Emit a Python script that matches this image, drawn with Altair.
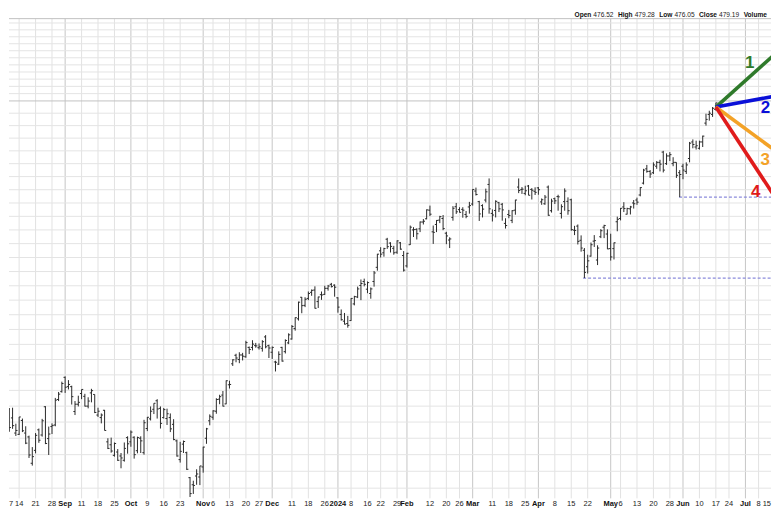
import altair as alt
import pandas as pd

# ---------------- data (daily OHLC, trading-day index 0 = Aug 7 2023) ----------------
opens = [370.9, 369.5, 369.0, 366.3, 361.6, 361.2, 365.5, 361.6, 360.4, 352.4,
         356.3, 362.6, 361.0, 369.8, 359.9, 363.6, 364.1, 372.1, 374.6, 379.2,
         376.2, 376.2, 368.3, 370.6, 374.0, 373.1, 370.0, 374.2, 373.7, 367.2,
         366.4, 368.7, 358.9, 358.0, 354.8, 355.8, 354.6, 353.3, 360.2, 358.9,
         360.3, 356.2, 360.0, 355.6, 363.0, 366.0, 369.0, 371.7, 369.3, 366.4,
         366.1, 366.4, 364.3, 359.2, 353.5, 358.2, 355.6, 348.1, 346.0, 348.6,
         348.3, 351.3, 360.0, 365.4, 366.5, 368.4, 372.2, 373.5, 370.7, 376.8,
         383.6, 386.4, 385.0, 386.5, 385.9, 389.0, 389.0, 389.6, 388.9, 388.7,
         392.5, 389.6, 387.4, 384.2, 383.5, 389.0, 387.6, 390.5, 391.8, 395.3,
         398.6, 406.0, 403.2, 405.6, 407.7, 408.5, 404.5, 406.9, 407.0, 409.1,
         410.5, 410.2, 405.8, 400.1, 397.8, 397.0, 398.0, 403.7, 406.1, 410.1,
         411.5, 408.8, 407.3, 411.5, 416.5, 422.4, 421.7, 426.6, 425.2, 423.3,
         421.9, 425.3, 420.7, 417.0, 424.6, 430.0, 430.2, 430.4, 432.9, 434.1,
         437.3, 429.3, 432.0, 433.6, 434.2, 428.8, 426.3, 434.6, 438.6, 437.5,
         437.6, 435.7, 438.5, 439.6, 444.5, 440.5, 439.0, 441.1, 447.0, 436.1,
         437.2, 440.1, 439.5, 432.4, 435.7, 433.5, 437.3, 446.0, 445.1, 443.6,
         446.4, 445.1, 444.4, 445.7, 440.4, 439.7, 446.0, 437.1, 441.6, 442.4,
         436.1, 440.5, 440.6, 441.2, 429.9, 431.4, 426.2, 422.6, 416.7, 420.5,
         425.9, 419.1, 427.5, 431.0, 428.5, 423.2, 423.2, 433.0, 434.2, 438.5,
         435.8, 437.8, 440.0, 441.1, 443.0, 447.5, 453.0, 452.0, 451.5, 454.0,
         455.5, 459.5, 455.0, 458.0, 455.0, 455.5, 451.5, 454.0, 452.0, 457.0,
         463.5, 461.5, 461.0, 463.5, 471.0, 474.5, 474.5, 476.52]
highs = [373.0, 370.6, 369.4, 369.5, 364.5, 366.6, 366.1, 363.7, 360.8, 357.3,
         361.6, 363.0, 366.0, 370.0, 363.6, 364.6, 372.6, 374.5, 377.8, 379.5,
         378.3, 376.5, 371.6, 373.3, 375.3, 373.9, 372.8, 375.5, 373.7, 369.5,
         367.7, 368.8, 360.0, 360.2, 358.7, 356.7, 355.5, 358.7, 360.6, 362.4,
         360.6, 360.5, 360.6, 365.7, 366.6, 369.9, 370.9, 372.2, 369.9, 369.4,
         369.2, 367.7, 365.9, 359.6, 358.9, 359.3, 355.9, 348.3, 347.2, 350.6,
         351.6, 357.4, 363.2, 367.4, 368.7, 372.5, 373.6, 374.8, 378.2, 378.1,
         385.1, 386.9, 387.4, 387.2, 391.2, 389.3, 391.4, 390.5, 390.3, 391.4,
         393.1, 389.9, 389.3, 384.6, 387.7, 389.2, 391.7, 393.7, 396.5, 399.1,
         404.5, 406.1, 406.0, 408.0, 408.7, 409.8, 406.2, 408.0, 410.0, 410.3,
         411.0, 410.5, 406.0, 401.8, 400.6, 399.6, 405.7, 406.5, 409.7, 412.2,
         412.5, 411.5, 409.4, 415.2, 421.3, 423.7, 423.5, 427.1, 425.5, 424.2,
         426.2, 425.6, 422.3, 421.7, 431.6, 431.0, 430.6, 433.1, 434.0, 437.6,
         439.0, 431.6, 433.6, 435.2, 435.5, 429.3, 427.3, 438.8, 440.0, 438.4,
         438.4, 437.0, 440.4, 445.2, 445.8, 440.8, 439.5, 445.4, 449.3, 437.6,
         441.0, 440.4, 440.0, 434.3, 437.4, 437.3, 441.2, 449.3, 446.0, 446.5,
         446.8, 445.6, 445.9, 446.0, 441.7, 443.0, 446.6, 441.6, 442.0, 443.1,
         439.5, 445.5, 442.1, 441.6, 431.5, 432.0, 428.0, 423.4, 421.0, 425.4,
         428.1, 424.4, 430.3, 431.9, 430.2, 428.6, 425.4, 434.9, 438.1, 440.3,
         438.2, 438.9, 441.1, 442.0, 446.0, 453.0, 454.5, 452.5, 455.5, 456.0,
         456.5, 460.0, 459.0, 459.5, 457.5, 455.5, 452.5, 455.0, 455.5, 463.5,
         464.5, 464.0, 464.0, 466.0, 474.8, 476.0, 477.5, 479.28]
lows = [369.3, 365.6, 362.0, 362.9, 360.7, 361.0, 361.9, 358.2, 354.0, 351.7,
        355.4, 358.6, 360.5, 358.2, 354.9, 361.3, 363.7, 371.6, 374.3, 374.2,
        375.3, 370.5, 367.2, 369.9, 372.2, 369.9, 369.3, 371.2, 367.8, 366.6,
        364.6, 362.4, 356.7, 355.6, 354.4, 353.1, 350.9, 352.9, 355.3, 357.4,
        353.8, 355.4, 355.5, 355.0, 362.2, 365.5, 367.5, 366.1, 363.0, 366.1,
        364.1, 361.9, 359.4, 354.4, 352.6, 355.5, 350.4, 342.4, 343.3, 346.0,
        345.9, 349.6, 358.3, 364.0, 365.7, 367.6, 370.6, 369.9, 370.6, 375.6,
        382.9, 384.1, 383.8, 384.7, 385.6, 386.8, 388.0, 388.9, 388.3, 387.6,
        388.7, 385.5, 385.2, 381.1, 383.2, 384.3, 387.0, 390.1, 391.6, 394.6,
        398.0, 400.5, 402.6, 405.0, 406.5, 402.1, 402.3, 405.1, 406.8, 408.3,
        409.4, 406.2, 400.7, 398.0, 396.7, 395.6, 397.9, 403.2, 405.7, 405.0,
        409.8, 407.4, 405.5, 409.7, 415.3, 420.0, 420.3, 423.1, 421.8, 421.0,
        421.3, 422.8, 415.0, 416.4, 424.5, 427.4, 426.5, 429.2, 432.0, 433.9,
        435.1, 424.9, 429.2, 432.5, 429.9, 424.8, 423.4, 433.4, 435.9, 436.4,
        434.5, 434.3, 436.0, 439.0, 442.8, 433.3, 434.6, 440.2, 436.0, 433.1,
        434.6, 436.6, 433.4, 430.5, 434.3, 432.5, 435.6, 443.7, 443.4, 442.9,
        442.9, 441.3, 443.0, 443.1, 439.3, 439.3, 435.2, 436.4, 439.6, 437.1,
        434.2, 437.1, 435.6, 429.7, 428.1, 424.7, 422.1, 412.7, 414.3, 420.3,
        423.8, 417.3, 427.0, 427.0, 423.0, 418.9, 419.3, 429.5, 433.5, 436.6,
        435.7, 435.7, 437.9, 439.3, 442.5, 447.0, 451.5, 449.5, 451.0, 453.0,
        452.0, 451.6, 454.5, 456.0, 454.0, 449.5, 442.2, 449.0, 451.0, 455.5,
        461.0, 460.5, 460.5, 461.5, 470.0, 472.0, 473.5, 476.05]
closes = [372.5, 368.7, 363.3, 363.9, 362.4, 366.6, 362.3, 358.5, 354.9, 354.4,
          360.9, 359.4, 365.4, 358.4, 361.3, 363.9, 371.9, 373.8, 377.2, 376.0,
          376.9, 373.0, 370.6, 371.2, 375.3, 370.0, 371.6, 374.9, 368.0, 368.4,
          367.2, 362.4, 356.9, 356.1, 358.4, 353.3, 354.0, 356.9, 358.3, 361.9,
          355.0, 360.2, 359.2, 364.8, 366.5, 368.4, 370.9, 369.1, 364.6, 368.9,
          367.6, 362.9, 359.6, 354.6, 356.0, 359.0, 350.6, 343.4, 345.8, 349.2,
          351.6, 357.3, 362.9, 366.8, 368.5, 372.1, 373.0, 370.0, 378.1, 376.9,
          384.9, 385.5, 386.5, 386.1, 390.6, 388.3, 390.1, 389.5, 389.2, 390.9,
          389.2, 388.8, 389.0, 384.1, 386.7, 384.5, 391.3, 393.2, 396.0, 399.0,
          404.3, 403.1, 405.3, 407.3, 408.4, 402.2, 406.1, 406.8, 409.1, 409.9,
          409.7, 409.5, 402.6, 398.3, 396.8, 396.4, 405.6, 406.2, 408.9, 410.8,
          410.5, 411.1, 408.9, 414.5, 421.2, 421.2, 423.2, 423.9, 424.0, 421.7,
          426.0, 423.0, 415.5, 421.5, 431.0, 430.1, 428.6, 432.9, 433.2, 437.4,
          435.8, 429.1, 433.5, 434.9, 430.5, 427.8, 426.7, 438.0, 436.7, 436.5,
          437.3, 435.0, 439.0, 445.1, 443.2, 435.9, 437.7, 444.2, 437.8, 435.5,
          440.6, 437.8, 437.4, 431.6, 435.3, 437.1, 441.1, 444.7, 445.2, 444.6,
          442.9, 444.8, 444.0, 445.0, 441.2, 442.2, 435.4, 440.7, 440.8, 442.3,
          438.6, 444.5, 437.1, 430.1, 429.8, 425.8, 423.4, 414.7, 418.8, 424.6,
          426.1, 423.4, 429.7, 431.6, 423.1, 420.2, 425.3, 433.9, 438.0, 437.9,
          437.9, 438.5, 439.7, 440.3, 445.8, 452.5, 452.0, 451.0, 454.5, 455.5,
          454.8, 452.5, 458.0, 458.5, 455.5, 450.5, 450.8, 452.5, 454.5, 463.0,
          462.5, 462.0, 463.5, 465.8, 472.5, 475.0, 477.0, 479.19]

# x-axis tick labels (trading-day index, text)
tick_idx = [0, 5, 10, 15, 19, 24, 29, 34, 39, 44, 49, 54, 61, 64, 69, 74, 78, 82,
            88, 93, 98, 102, 106, 111, 115, 120, 123, 130, 135, 139, 143, 149, 154,
            159, 163, 168, 173, 178, 185, 188, 193, 198, 203, 207, 212, 217, 221,
            226, 230, 235]
tick_text = ["7", "14", "21", "28", "Sep", "11", "18", "25", "Oct", "9", "16", "23",
             "Nov", "6", "13", "20", "27", "Dec", "11", "18", "26", "2024", "8", "16",
             "22", "29", "Feb", "12", "20", "26", "Mar", "11", "18", "25", "Apr", "8",
             "15", "22", "May", "6", "13", "20", "28", "Jun", "10", "17", "24", "Jul",
             "8", "15"]
month_labels = ["Sep", "Oct", "Nov", "Dec", "2024", "Feb", "Mar", "Apr", "May", "Jun", "Jul"]

# horizontal grid price levels
grid_low = [345, 350, 355, 360, 365, 370, 375, 380, 385, 390, 395, 400, 405, 410,
            415, 420, 425, 430, 435, 440, 445, 450, 455, 460, 465, 470, 475]
grid_high = [483, 486, 489, 492, 495, 498, 501, 504, 507, 510, 513]
grid_major = [480]

# scenario projection lines from last bar
scen_names = ["1", "2", "3", "4"]
scen_colors = ["#2f7a2b", "#0a10d8", "#f3a227", "#e01b1b"]
scen_start_idx = 217
scen_start_price = 477.5
scen_end_idx = 236.21
scen_end_price = [501.1, 482.3, 459.0, 439.9]
scen_label_idx = [227.3, 232.1, 232.0, 229.1]
scen_label_price = [495.6, 477.0, 456.4, 444.2]

# support (dashed) lines
sup_start_idx = [176.6, 205.8]
sup_price = [412.7, 442.2]

header_words = ["Open", "476.52", "High", "479.28", "Low", "476.05", "Close", "479.19", "Volume"]
header_bold = [True, False, True, False, True, False, True, False, True]
header_x = [567, 585.9, 610.6, 627.3, 652, 667.2, 691.9, 711.9, 736.6]

# ---------------- layout (plot covers the reference region x 8..772, y 8..508) ----------------
W, H = 764, 500
X_MIN, X_MAX = 1.912, 233.78
xs = alt.Scale(domain=[X_MIN, X_MAX], nice=False, zero=False)
ys = alt.Scale(type="log", domain=[339.4, 519.3], nice=False, zero=False)
FONT = "Liberation Sans"
GRID_BOTTOM = 491
LABEL_Y = H - 3.5

bars = pd.DataFrame({"idx": list(range(len(closes))), "o": opens, "h": highs,
                     "l": lows, "c": closes})
ticks = pd.DataFrame({"idx": tick_idx, "text": tick_text})
ticks["month"] = ticks["text"].isin(month_labels)

X = alt.X("idx:Q", scale=xs, axis=None)

vgrid_minor = alt.Chart(ticks[~ticks.month]).mark_rule(color="#e2e2e2", strokeWidth=1, clip=True).encode(
    x=X, y=alt.value(10), y2=alt.value(GRID_BOTTOM))
vgrid_major = alt.Chart(ticks[ticks.month]).mark_rule(color="#c6c6c6", strokeWidth=1, clip=True).encode(
    x=X, y=alt.value(10), y2=alt.value(GRID_BOTTOM))

hg = pd.DataFrame({"p": grid_low + grid_high})
hgrid = alt.Chart(hg).mark_rule(color="#e4e4e4", strokeWidth=1).encode(
    y=alt.Y("p:Q", scale=ys, axis=None), x=alt.value(0), x2=alt.value(W))
hgrid_major = alt.Chart(pd.DataFrame({"p": grid_major})).mark_rule(color="#c2c2c2", strokeWidth=1).encode(
    y=alt.Y("p:Q", scale=ys, axis=None), x=alt.value(0), x2=alt.value(W))
top_border = alt.Chart(pd.DataFrame({"a": [0]})).mark_rule(color="#c2c2c2", strokeWidth=1).encode(
    y=alt.value(10), x=alt.value(0), x2=alt.value(W))

base = alt.Chart(bars)
hl = base.mark_rule(color="#2a2a2a", strokeWidth=1, clip=True).encode(
    x=X, y=alt.Y("l:Q", scale=ys, axis=None), y2="h:Q")
otick = base.transform_calculate(x0="datum.idx - 0.5").mark_rule(
    color="#2a2a2a", strokeWidth=1, clip=True).encode(
    x=alt.X("x0:Q", scale=xs, axis=None), x2="idx:Q", y=alt.Y("o:Q", scale=ys, axis=None))
ctick = base.transform_calculate(x1="datum.idx + 0.5").mark_rule(
    color="#2a2a2a", strokeWidth=1, clip=True).encode(
    x=X, x2="x1:Q", y=alt.Y("c:Q", scale=ys, axis=None))

sup = pd.DataFrame({"s": sup_start_idx, "p": sup_price, "e": [scen_end_idx] * 2})
support = alt.Chart(sup).mark_rule(color="#8c8cdc", strokeWidth=1.2, strokeDash=[3, 2], clip=True).encode(
    x=alt.X("s:Q", scale=xs, axis=None), x2="e:Q", y=alt.Y("p:Q", scale=ys, axis=None))

scen = pd.DataFrame({"name": scen_names, "x0": [scen_start_idx] * 4, "y0": [scen_start_price] * 4,
                     "x1": [scen_end_idx] * 4, "y1": scen_end_price,
                     "lx": scen_label_idx, "ly": scen_label_price})
cscale = alt.Scale(domain=scen_names, range=scen_colors)
scen_lines = alt.Chart(scen).mark_rule(strokeWidth=3.6, clip=True, strokeCap="butt").encode(
    x=alt.X("x0:Q", scale=xs, axis=None), x2="x1:Q",
    y=alt.Y("y0:Q", scale=ys, axis=None), y2="y1:Q",
    color=alt.Color("name:N", scale=cscale, legend=None))
scen_text = alt.Chart(scen).mark_text(fontSize=17, fontWeight="bold", font=FONT,
                                      align="center", baseline="middle").encode(
    x=alt.X("lx:Q", scale=xs, axis=None), y=alt.Y("ly:Q", scale=ys, axis=None),
    text="name:N", color=alt.Color("name:N", scale=cscale, legend=None))

# labels sit at their tick; the two end labels are kept inside the frame
inner = ticks[(ticks.idx > 0) & (ticks.idx < 235)]
first = ticks[ticks.idx == 0]
last = ticks[ticks.idx == 235]

lab_norm = alt.Chart(inner[~inner.month]).mark_text(
    fontSize=7.5, font=FONT, color="#222", baseline="middle", align="center").encode(
    x=X, y=alt.value(LABEL_Y), text="text:N")
lab_bold = alt.Chart(inner[inner.month]).mark_text(
    fontSize=7.5, font=FONT, color="#111", fontWeight="bold", baseline="middle",
    align="center").encode(
    x=X, y=alt.value(LABEL_Y), text="text:N")
lab_first = alt.Chart(first).mark_text(
    fontSize=7.5, font=FONT, color="#222", baseline="middle", align="left").encode(
    x=alt.value(0), y=alt.value(LABEL_Y), text="text:N")
lab_last = alt.Chart(last).mark_text(
    fontSize=7.5, font=FONT, color="#222", baseline="middle", align="right").encode(
    x=alt.value(W), y=alt.value(LABEL_Y), text="text:N")

hdr = pd.DataFrame({"w": header_words, "b": header_bold, "x": header_x})
hdr_norm = alt.Chart(hdr[~hdr.b]).mark_text(fontSize=6.6, font=FONT, color="#222", align="left",
                                            baseline="middle").encode(
    x=alt.X("x:Q", scale=None), y=alt.value(6), text="w:N")
hdr_bold = alt.Chart(hdr[hdr.b]).mark_text(fontSize=6.6, font=FONT, color="#111", align="left",
                                           fontWeight="bold", baseline="middle").encode(
    x=alt.X("x:Q", scale=None), y=alt.value(6), text="w:N")

chart = alt.layer(
    vgrid_minor, vgrid_major, hgrid, hgrid_major, top_border,
    support, hl, otick, ctick, scen_lines, scen_text,
    lab_norm, lab_bold, lab_first, lab_last, hdr_norm, hdr_bold
).properties(
    width=W, height=H, padding=0, background="white"
).configure_view(stroke=None)

chart.save("out.html", embed_options={"renderer": "svg", "actions": False})
